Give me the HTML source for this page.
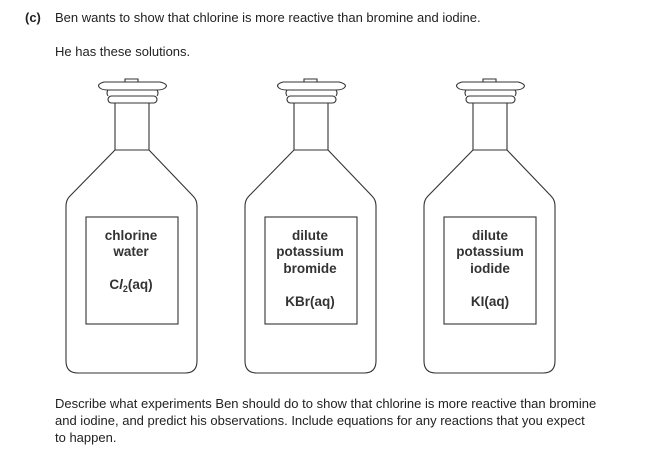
<!DOCTYPE html>
<html><head><style>
body{margin:0;background:#fff;width:649px;height:452px;overflow:hidden;position:relative;font-family:"Liberation Sans",Arial,sans-serif;color:#222}
.t{position:absolute;font-size:13px;white-space:nowrap}
</style></head><body>
<div class="t" style="left:25px;top:10px"><b>(c)</b></div>
<div class="t" style="left:55px;top:10px">Ben wants to show that chlorine is more reactive than bromine and iodine.</div>
<div class="t" style="left:55px;top:44px">He has these solutions.</div>
<div class="t" style="left:55px;top:395px;line-height:17px">Describe what experiments Ben should do to show that chlorine is more reactive than bromine<br>and iodine, and predict his observations. Include equations for any reactions that you expect<br>to happen.</div>
<svg width="649" height="452" style="position:absolute;left:0;top:0" font-family="Liberation Sans, Arial, sans-serif" font-size="13.5" font-weight="bold" fill="#333" text-anchor="middle">
<defs>
<g id="b" fill="none" stroke="#333" stroke-width="1.1">
<path d="M125 82 V79 H138 V82"/>
<path d="M104 82 Q97 84 99 87 Q101 90 108 90 H157 Q164 90 166 87 Q168 84 160 82 Z"/>
<rect x="108" y="96" width="49" height="7" rx="3.5"/>
<path d="M108 90 Q106 93 108 96 M157 90 Q159 93 157 96"/>
<path d="M115 103 V150 H149 V103 M115 150 L70 196 Q66 200 66 206 V361 Q66 373 78 373 H185 Q197 373 197 361 V206 Q197 200 193 196 L149 150"/>
<rect x="86" y="217" width="92" height="107"/>
</g>
</defs>
<use href="#b"/>
<use href="#b" x="179"/>
<use href="#b" x="358"/>
<g fill="#333">
<text x="131" y="240">chlorine</text>
<text x="131" y="256">water</text>
<text x="131" y="289">C<tspan font-style="italic">l</tspan><tspan font-size="9" dy="3">2</tspan><tspan dy="-3">(aq)</tspan></text>
<text x="310" y="240">dilute</text>
<text x="310" y="256">potassium</text>
<text x="310" y="273">bromide</text>
<text x="310" y="306">KBr(aq)</text>
<text x="490" y="240">dilute</text>
<text x="490" y="256">potassium</text>
<text x="490" y="273">iodide</text>
<text x="490" y="306">KI(aq)</text>
</g>
</svg>
</body></html>
